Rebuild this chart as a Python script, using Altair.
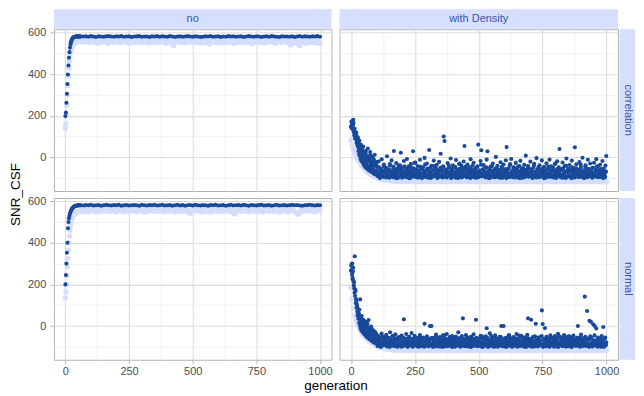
import altair as alt
import pandas as pd

# ------------------------------------------------------------------ data
# facet labels
COL_LABELS = ["no", "with Density"]
ROW_LABELS = ["correlation", "normal"]

# "no" panels: early generations (0..60 step 2)
NO_EARLY_GEN = list(range(0, 61, 2))
NO_CORR_DARK_EARLY = [198, 215, 262, 305, 352, 398, 441, 478, 505, 527, 543, 553, 561, 567, 571,
                      574, 576, 578, 579, 579, 580, 580, 581, 580, 581, 580, 581, 579, 580, 581, 580]
NO_CORR_LIGHT_EARLY = [140, 160, 205, 250, 300, 345, 390, 428, 460, 485, 503, 515, 523, 530, 535,
                       539, 542, 545, 547, 549, 550, 552, 553, 554, 555, 556, 556, 557, 558, 557, 558]
NO_NORM_DARK_EARLY = [200, 245, 300, 352, 400, 470, 500, 518, 530, 540, 548, 554, 559, 563, 566,
                      569, 572, 574, 575, 576, 577, 578, 578, 579, 579, 580, 580, 581, 580, 579, 580]
NO_NORM_LIGHT_EARLY = [135, 165, 200, 240, 285, 325, 365, 400, 432, 460, 482, 498, 510, 518, 524,
                       529, 533, 536, 539, 541, 543, 545, 546, 548, 549, 550, 551, 552, 553, 554, 553]

# "no" panels: later generations (dark every 10 from 70, light every 5 from 65)
NO_DARK_LATE_START, NO_DARK_LATE_STEP = 70, 10
NO_LIGHT_LATE_START, NO_LIGHT_LATE_STEP = 65, 5
NO_CORR_DARK_LATE = [
    580, 581, 579, 582, 580, 578, 581, 580, 579, 581,
    582, 580, 579, 581, 580, 582, 579, 580, 581, 578,
    580, 581, 582, 579, 580, 580, 578, 581, 580, 582,
    579, 581, 580, 579, 582, 580, 578, 580, 581, 579,
    580, 582, 580, 579, 581, 580, 578, 579, 581, 580,
    582, 579, 580, 581, 578, 580, 579, 582, 580, 581,
    579, 580, 581, 578, 580, 582, 580, 579, 581, 580,
    578, 580, 581, 579, 582, 580, 579, 578, 581, 580,
    580, 579, 581, 578, 580, 582, 579, 581, 580, 579,
    581, 580, 582, 579]
NO_CORR_LIGHT_LATE = [
    558, 554, 563, 567, 555, 560, 551, 565, 569, 556,
    552, 562, 566, 548, 559, 564, 554, 557, 570, 553,
    561, 547, 556, 565, 560, 551, 568, 558, 554, 563,
    550, 559, 566, 555, 562, 553, 557, 569, 548, 560,
    564, 556, 552, 561, 567, 554, 558, 550, 565, 559,
    553, 562, 557, 549, 566, 560, 555, 563, 551, 568,
    557, 552, 564, 559, 554, 561, 548, 556, 565, 553,
    560, 543, 537, 551, 563, 558, 555, 566, 552, 559,
    564, 550, 557, 562, 554, 568, 556, 551, 560, 565,
    553, 559, 564, 548, 557, 562, 555, 550, 566, 558,
    544, 554, 561, 556, 567, 552, 559, 563, 549, 557,
    565, 553, 558, 551, 562, 556, 568, 554, 560, 547,
    559, 564, 552, 557, 555, 563, 550, 561, 566, 553,
    558, 551, 562, 556, 546, 560, 554, 565, 557, 552,
    563, 555, 559, 549, 564, 558, 553, 561, 556, 567,
    552, 560, 548, 557, 563, 554, 559, 551, 565, 556,
    561, 553, 558, 545, 539, 555, 562, 550, 557, 564,
    542, 537, 551, 559, 554, 563, 548, 557, 560, 553,
    558, 551, 564, 555, 549, 560, 556, 547]
NO_NORM_DARK_LATE = [
    579, 581, 580, 582, 579, 580, 581, 578, 580, 582,
    580, 579, 581, 580, 582, 578, 580, 581, 579, 580,
    581, 580, 578, 582, 580, 579, 581, 580, 582, 579,
    580, 582, 579, 580, 581, 578, 580, 582, 579, 581,
    578, 580, 581, 579, 582, 580, 579, 581, 580, 578,
    581, 580, 582, 579, 580, 581, 578, 580, 582, 579,
    580, 581, 579, 582, 580, 578, 581, 580, 579, 581,
    582, 579, 580, 581, 578, 580, 582, 579, 580, 581,
    579, 580, 582, 580, 581, 579, 578, 580, 581, 582,
    580, 579, 581, 580]
NO_NORM_LIGHT_LATE = [
    552, 557, 549, 561, 555, 550, 563, 558, 553, 560,
    556, 548, 562, 554, 559, 551, 566, 557, 552, 561,
    555, 563, 550, 558, 564, 553, 557, 549, 562, 556,
    560, 552, 567, 555, 549, 561, 556, 563, 551, 558,
    554, 562, 557, 550, 565, 556, 552, 560, 555, 547,
    563, 558, 551, 566, 554, 559, 553, 561, 557, 550,
    556, 564, 552, 558, 562, 549, 557, 555, 566, 551,
    559, 554, 561, 548, 556, 563, 552, 558, 550, 560,
    555, 562, 551, 557, 545, 540, 553, 560, 556, 564,
    552, 559, 554, 561, 549, 557, 563, 550, 558, 555,
    561, 547, 556, 562, 553, 558, 551, 565, 555, 559,
    550, 563, 557, 552, 560, 554, 566, 549, 558, 544,
    539, 552, 559, 555, 562, 551, 557, 564, 553, 560,
    556, 549, 561, 558, 552, 565, 555, 550, 562, 557,
    553, 560, 548, 557, 563, 554, 559, 551, 566, 556,
    562, 550, 558, 555, 561, 547, 557, 564, 552, 559,
    555, 561, 549, 558, 553, 562, 556, 550, 545, 541,
    538, 548, 556, 562, 551, 559, 554, 563, 557, 552,
    560, 555, 563, 549, 558, 554, 561, 556]

# "with Density" panels: dark every 3 generations from 0 (A) and from 101 (B), light every 5
DEN_DARK_STEP = 3
DEN_B_START = 101
DEN_LIGHT_STEP = 5
DEN_CORR_DARK = [
    145, 168, 135, 180, 128, 112, 98, 118, 72, 95,
    45, 80, 20, 60, 38, -5, 52, 15, -20, 30,
    -35, 8, 42, -48, -12, 25, -55, -25, 2, -62,
    -40, 12, -70, -30,
    -45, -88, -20, -72, -95, -58, -10, -80, -66, -35,
    -92, -50, -78, 5, -85, -62, -98, -40, -70, -15,
    -83, -55, 30, -90, -68, -28, -76, -99, -47, -60,
    -38, 22, -87, -64, -93, -18, -74, -52, -96, -8,
    -81, -45, -69, -100, -33, -88, -57, 29, -75, -94,
    -25, -61, -86, -42, -97, -70, -12, -83, -55, -91,
    -48, -78, -3, -94, -65, -30, -87, -58, 35, -73,
    -99, -41, -82, -62, -16, -90, -53, -77, -36, -95,
    -68, -22, -86, 17, -59, -93, -44, 100, 78, -80,
    -64, -97, -28, -72, -50, -89, -6, -83, -60, -38,
    -92, -75, -47, -13, -86, -66, -99, -32, -79, -55,
    -40, -91, -68, -20, 54, -84, -57, -96, -35, -73,
    -88, -48, -9, -78, -62, -93, -26, -81, -54, -70,
    -97, -43, 61, -85, -66, -18, 34, -90, -58, -37,
    -76, -94, -50, -11, 29, -82, -63, -99, -45, -71,
    -87, -30, -68, -93, -55, 2, -79, -41, -96, -61,
    -74, -24, -89, -52, -98, -35, -83, -65, -14, 49,
    -91, -57, -77, -39, -86, -8, -70, -95, -48, -62,
    -81, -27, -93, -60, -45, -99, -72, -17, -85, -53,
    -67, -96, -36, -79, 8, -88, -58, -42, -92, -74,
    -21, -84, -63, -97, -49, -31, -87, -69, -4, -80,
    -55, -94, -38, -72, -90, -15, -61, -83, -46, -98,
    -66, -29, -86, -57, -77, -11, -93, -43, -70, -88,
    -52, -97, -33, -75, -62, -19, -89, -48, 40, -81,
    -95, -58, -25, -84, -69, -41, -99, -6, -73, -56,
    -87, -37, -64, -92, -16, -78, -51, -96, 48, -68,
    -34, -85, -59, -94, -23, -71, -47, -88, -2, -79,
    -63, -98, -39, -82, -55, -12, -91, -67, -30, -86,
    -74, -50, -95, -26, -80, -61, -9, -89, -44, -70,
    -93, -36, -77, -57, -18, -84, -66, -97, -40, 6]
DEN_CORR_DARK_B = [
    -62, -90, -77, -48, -99, -83, -55, -70, -94, -41,
    -86, -65, -97, -52, -74, -88, -59, -33, -92, -80,
    -68, -96, -45, -84, -71, -100, -57, -89, -63, -38,
    -93, -76, -50, -98, -66, -82, -43, -91, -72, -56,
    -87, -61, -99, -79, -47, -95, -69, -85, -53, -27,
    -90, -74, -58, -97, -81, -64, -92, -46, -78, -100,
    -60, -88, -70, -35, -94, -83, -54, -98, -67, -89,
    -49, -76, -96, -62, -85, -42, -91, -73, -57, -99,
    -80, -65, -93, -51, -87, -70, -97, -44, -82, -61,
    -95, -58, -77, -90, -39, -84, -68, -100, -55, -92,
    -72, -86, -47, -98, -63, -81, -94, -56, -30, -88,
    -66, -97, -79, -52, -91, -74, -45, -89, -60, -96,
    -83, -69, -99, -57, -87, -40, -93, -76, -64, -98,
    -50, -85, -71, -95, -62, -80, -36, -92, -77, -58,
    -90, -67, -97, -48, -84, -73, -99, -55, -88, -65,
    -43, -94, -79, -61, -96, -86, -52, -70, -91, -82,
    -59, -98, -75, -46, -89, -66, -93, -80, -57, -100,
    -71, -87, -54, -95, -33, -78, -92, -63, -85, -49,
    -97, -68, -81, -58, -94, -74, -42, -90, -65, -99,
    -84, -53, -77, -96, -61, -88, -70, -45, -93, -79,
    -56, -91, -67, -99, -83, -38, -86, -72, -97, -60,
    -89, -47, -95, -75, -64, -92, -54, -81, -100, -69,
    -78, -97, -58, -87, -44, -93, -73, -62, -90, -51,
    -96, -66, -83, -29, -99, -77, -55, -88, -70, -94,
    -61, -85, -98, -52, -79, -91, -67, -41, -95, -74,
    -87, -57, -93, -68, -100, -48, -82, -63, -97, -76,
    -53, -90, -72, -96, -59, -86, -35, -94, -80, -64,
    -99, -71, -46, -88, -62, -95, -78, -56, -92, -83,
    -67, -98, -50, -84, -75, -91, -60, -43, -96, -73,
    -89, -58, -94, -65, -81, -99, -54, -77, -92, -69]
DEN_NORM_DARK = [
    265, 298, 232, 280, 210, 335, 168, 120, 95, 64,
    40, 78, 128, 20, 48, -10, 30, -28, 8, -40,
    18, -50, -8, 29, -60, -30, -66, -15, -45, -74,
    -25, -58, -80, -38,
    -70, -95, -48, -82, -60, -99, -36, -88, -75, -53,
    -91, -66, -42, -85, -98, -57, -78, -30, -93, -69,
    -50, -87, -96, -62, -40, -80, -72, -99, -55, -90,
    -65, -84, -46, -97, -76, 32, -59, -92, -38, -81,
    -100, -68, -52, -89, -74, -34, -95, -61, -83, -47,
    -78, -93, -58, -86, -70, -99, -43, -81, -64, -90,
    -55, -96, 11, -74, -88, -49, -67, -97, -80, 0,
    -62, 0, -91, -57, -84, -72, -98, -41, -86, -65,
    -79, -94, -53, -70, -99, -88, -45, -76, -92, -60,
    -85, -38, -97, -68, -81, -56, -93, -74, -48, -89,
    -63, -99, -77, -51, -90, -83, -30, -95, -70, -58,
    -86, -94, 37, -66, -80, -97, -44, -73, -89, -61,
    -92, -55, -78, -99, -68, -85, -40, -94, -71, 30,
    -57, -88, -96, -64, -79, -47, -91, -82, -100, -60,
    -74, -93, -50, -11, -86, -69, -97, -35, -80, -62,
    -90, -58, -77, -99, -45, -84, -71, -95, -63, -88,
    -52, -79, 0, -92, -67, 0, -98, -74, -87, -56,
    -81, -95, -43, -70, -89, -61, -99, -76, -53, -85,
    -66, -93, -38, -80, -97, -58, -72, -88, -47, -91,
    -63, -84, -99, -54, -77, -90, -42, 37, -69, -86,
    -95, 30, -60, -82, -73, -98, -49, 11, -88, -65,
    -79, -94, -56, -70, -91, 75, 10, -83, -67, -10,
    -97, -52, -86, -74, -62, -99, -45, -81, -90, -58,
    -71, -93, -48, -84, -66, -99, -37, -77, -89, -60,
    -85, -54, -96, -72, -43, -88, -65, -98, -79, -51,
    -91, -68, -82, -57, -99, -74, -46, -87, -63, -94,
    -80, -55, 0, -92, -70, -97, -41, -84, -66, -89,
    -58, 141, -95, -76, 72, -62, -88, 25, -50, 20,
    -83, -97, 8, -69, 0, -90, -12, -77, -55, -93,
    -64, -85, -99, -48, -72, -5, -88, -60, -94, -78]
DEN_NORM_DARK_B = [
    -75, -96, -58, -88, -67, -99, -82, -51, -93, -70,
    -62, -90, -78, -97, -55, -85, -72, -100, -64, -91,
    -80, -47, -94, -69, -87, -59, -98, -76, -83, -53,
    -92, -66, -99, -81, -57, -89, -73, -95, -61, -86,
    -70, -97, -52, -84, -77, -93, -63, -100, -68, -88,
    -56, -91, -79, -98, -65, -83, -49, -94, -74, -96,
    -87, -60, -99, -71, -90, -54, -82, -97, -66, -78,
    -93, -58, -85, -100, -69, -76, -95, -50, -89, -63,
    -81, -98, -72, -92, -57, -86, -67, -99, -45, -79,
    -96, -64, -88, -75, -94, -53, -83, -70, -100, -61,
    -90, -77, -55, -97, -68, -85, -92, -59, -80, -99,
    -71, -48, -93, -82, -63, -96, -74, -89, -56, -98,
    -85, -66, -100, -52, -79, -91, -60, -94, -73, -87,
    -58, -97, -69, -84, -95, -62, -78, -99, -51, -90,
    -76, -93, -64, -88, -57, -100, -81, -70, -96, -47,
    -89, -61, -98, -75, -92, -55, -86, -67, -99, -80,
    -65, -94, -53, -83, -97, -72, -90, -59, -87, -100,
    -78, -68, -95, -50, -84, -91, -63, -98, -74, -57,
    -93, -82, -60, -99, -70, -88, -46, -96, -77, -85,
    -54, -97, -73, -90, -64, -100, -83, -58, -94, -69,
    -87, -62, -99, -79, -52, -92, -75, -95, -66, -81,
    -98, -56, -86, -71, -93, -48, -89, -100, -61, -77,
    -91, -74, -97, -59, -84, -67, -96, -53, -88, -80,
    -63, -99, -70, -94, -57, -85, -78, -100, -49, -92,
    -83, -65, -96, -72, -89, -55, -98, -76, -62, -90,
    -97, -50, -87, -68, -100, -80, -58, -93, -73, -86,
    -60, -95, -75, -91, -64, -99, -54, -82, -97, -69,
    -88, -71, -52, -96, -79, -92, -61, -100, -66, -84,
    -57, -98, -77, -89, -45, -94, -70, -85, -99, -63,
    -93, -74, -59, -97, -81, -67, -100, -86, -56, -90]

# extra early generations (those not on the 3-step grid, 1..98)
DEN_EXTRA_GEN = [g for g in range(1, 99) if g % 3 != 0]
DEN_CORR_DARK_EXTRA = [
    150, 172, 160, 140, 175, 155, 165, 120, 105, 138,
    90, 122, 108, 85, 70, 100, 58, 88, 50, 30,
    65, 15, 48, 5, 35, -10, 22, -18, 10, 45,
    -25, 28, -32, 0, -38, 18, -45, -8, 25, -50,
    -15, -52, 5, -42, -58, -20, -62, -5, -50, -66,
    -35, 10, -68, -45, -18, -72, -55, -30, -76, -10,
    -62, -80, -40, -82, -22, -65]
DEN_NORM_DARK_EXTRA = [
    290, 270, 248, 300, 225, 262, 215, 195, 180, 160,
    145, 175, 110, 130, 88, 105, 70, 52, 82, 35,
    60, 15, 45, 0, 25, -12, 38, -20, 5, -25,
    18, -30, -5, -35, 12, -40, -18, 22, -47, -25,
    -3, -52, -35, 10, -57, -40, -12, -61, -48, -22,
    -66, -52, -2, -70, -35, -60, -74, -20, -66, -77,
    -42, -80, -55, -30, -82, -70]

DEN_CORR_LIGHT = [
    82, 58, 36, 20, 6, -6, -16, -26, -35, -43,
    -51, -58, -64, -70, -75, -80, -84, -88, -91, -94,
    -97, -99, -101, -103, -105, -107, -108, -109, -110, -111,
    -112, -113, -112, -114, -115, -113, -116, -114, -115, -117,
    -115, -113, -116, -118, -114, -116, -115, -117, -113, -116,
    -118, -115, -114, -117, -116, -113, -115, -118, -116, -114,
    -117, -115, -116, -113, -118, -116, -114, -117, -115, -116,
    -114, -117, -115, -118, -116, -113, -117, -115, -116, -118,
    -115, -116, -114, -117, -115, -118, -116, -114, -117, -115,
    -116, -118, -115, -114, -117, -116, -113, -115, -118, -116,
    -114, -117, -115, -116, -118, -115, -117, -114, -116, -115,
    -117, -116, -114, -118, -115, -116, -117, -113, -116, -118,
    -115, -117, -116, -114, -118, -116, -115, -117, -114, -116,
    -118, -115, -117, -116, -113, -117, -115, -118, -116, -114,
    -116, -118, -115, -117, -114, -116, -118, -115, -117, -116,
    -114, -117, -116, -118, -115, -117, -113, -116, -118, -115,
    -117, -115, -118, -116, -114, -117, -115, -116, -118, -117,
    -115, -118, -116, -114, -117, -115, -118, -116, -117, -115,
    -116, -114, -117, -118, -115, -116, -118, -117, -115, -116,
    -118, -116, -115, -117, -114, -118, -116, -117, -115, -118,
    -116]
DEN_NORM_LIGHT = [
    185, 130, 85, 50, 25, 8, -6, -18, -28, -37,
    -45, -52, -58, -64, -70, -75, -80, -84, -88, -91,
    -94, -97, -99, -101, -103, -105, -106, -108, -109, -110,
    -111, -112, -114, -113, -115, -116, -114, -117, -115, -116,
    -117, -114, -116, -115, -118, -116, -114, -117, -115, -116,
    -115, -117, -118, -116, -114, -116, -117, -115, -118, -116,
    -116, -114, -117, -115, -116, -118, -115, -117, -116, -114,
    -117, -116, -115, -118, -114, -117, -116, -115, -117, -118,
    -116, -115, -117, -114, -118, -116, -115, -117, -116, -115,
    -118, -116, -114, -117, -115, -116, -118, -117, -114, -116,
    -115, -118, -116, -117, -114, -116, -115, -118, -117, -116,
    -116, -114, -117, -115, -118, -116, -117, -115, -114, -117,
    -118, -116, -115, -117, -116, -114, -118, -116, -117, -115,
    -116, -117, -114, -118, -115, -117, -116, -115, -118, -116,
    -115, -116, -118, -114, -117, -115, -116, -118, -116, -117,
    -117, -115, -116, -118, -116, -114, -117, -115, -118, -116,
    -114, -117, -115, -116, -118, -117, -115, -116, -114, -118,
    -116, -118, -117, -115, -116, -114, -117, -118, -115, -116,
    -117, -115, -116, -118, -114, -117, -116, -115, -118, -117,
    -115, -116, -118, -117, -115, -114, -116, -118, -117, -115,
    -116]

# axis tick values (major + minor grid)
X_VALUES = [0, 125, 250, 375, 500, 625, 750, 875, 1000]
Y_VALUES = [-100, 0, 100, 200, 300, 400, 500, 600]
X_DOMAIN = [-45, 1045]
Y_DOMAIN = [-162, 615]

# ------------------------------------------------------------------ style
FONT = "Liberation Sans"
DARK = "#19499a"
LIGHT = "#d4ddfc"
STRIP_FILL = "#d6dffd"
STRIP_TEXT = "#3358a8"
W_L, W_R, H = 278, 279, 162
SP_COL, SP_ROW = 8, 7
STRIP_H = 20
LIGHT_SIZE, DARK_SIZE = 28, 17


def frame(gens, vals):
    return pd.DataFrame({"generation": gens, "SNR_CSF": vals})


def no_data(dark_early, dark_late, light_early, light_late):
    dg = NO_EARLY_GEN + [NO_DARK_LATE_START + NO_DARK_LATE_STEP * i for i in range(len(dark_late))]
    lg = NO_EARLY_GEN + [NO_LIGHT_LATE_START + NO_LIGHT_LATE_STEP * i for i in range(len(light_late))]
    return frame(lg, light_early + light_late), frame(dg, dark_early + dark_late)


def den_data(dark, dark_b, extra, light):
    dg = ([DEN_DARK_STEP * i for i in range(len(dark))]
          + [DEN_B_START + DEN_DARK_STEP * i for i in range(len(dark_b))]
          + DEN_EXTRA_GEN)
    lg = [DEN_LIGHT_STEP * i for i in range(len(light))]
    return frame(lg, light), frame(dg, dark + dark_b + extra)


def x_axis(show):
    return alt.Axis(
        values=X_VALUES, title=None, domain=False, format="d",
        labels=show, ticks=show,
        labelExpr="datum.value % 250 === 0 ? datum.label : ''",
        labelFont=FONT, labelFontSize=11, labelColor="#4d4d4d", labelPadding=2.5,
        tickSize=3.7, tickColor="#b3b3b3",
        tickOpacity={"condition": {"test": "datum.value % 250 !== 0", "value": 0}, "value": 1},
        grid=True,
        gridColor={"condition": {"test": "datum.value % 250 === 0", "value": "#dcdcdc"}, "value": "#eaeaea"},
        gridWidth={"condition": {"test": "datum.value % 250 === 0", "value": 1.1}, "value": 0.6},
    )


def y_axis(show):
    return alt.Axis(
        values=Y_VALUES, title=None, domain=False, format="d",
        labels=show, ticks=show,
        labelExpr="datum.value % 200 === 0 ? datum.label : ''",
        labelFont=FONT, labelFontSize=11, labelColor="#4d4d4d", labelPadding=4.5,
        tickSize=3.7, tickColor="#b3b3b3",
        tickOpacity={"condition": {"test": "datum.value % 200 !== 0", "value": 0}, "value": 1},
        grid=True,
        gridColor={"condition": {"test": "datum.value % 200 === 0", "value": "#dcdcdc"}, "value": "#eaeaea"},
        gridWidth={"condition": {"test": "datum.value % 200 === 0", "value": 1.1}, "value": 0.6},
    )


def panel(light_df, dark_df, width, left, bottom, top_label=None, right_label=None,
          y_title=False, x_title=False):
    x = alt.X("generation:Q", scale=alt.Scale(domain=X_DOMAIN, nice=False, zero=False), axis=x_axis(bottom))
    y = alt.Y("SNR_CSF:Q", scale=alt.Scale(domain=Y_DOMAIN, nice=False, zero=False), axis=y_axis(left))
    layers = [
        alt.Chart(light_df).mark_circle(size=LIGHT_SIZE, color=LIGHT, opacity=1).encode(x=x, y=y),
        alt.Chart(dark_df).mark_circle(size=DARK_SIZE, color=DARK, opacity=1).encode(x=x, y=y),
    ]
    if top_label is not None:
        d = pd.DataFrame({"label": [top_label]})
        layers.append(alt.Chart(d).mark_rect(color=STRIP_FILL).encode(
            x=alt.value(0), x2=alt.value(width), y=alt.value(-STRIP_H), y2=alt.value(-0.5)))
        layers.append(alt.Chart(d).mark_text(font=FONT, fontSize=11, color=STRIP_TEXT,
                                             align="center", baseline="middle").encode(
            x=alt.value(width / 2), y=alt.value(-STRIP_H / 2), text="label:N"))
    if right_label is not None:
        d = pd.DataFrame({"label": [right_label]})
        layers.append(alt.Chart(d).mark_rect(color=STRIP_FILL).encode(
            x=alt.value(width + 1.5), x2=alt.value(width + 17), y=alt.value(0), y2=alt.value(H)))
        layers.append(alt.Chart(d).mark_text(font=FONT, fontSize=11, color=STRIP_TEXT, angle=90,
                                             align="center", baseline="middle").encode(
            x=alt.value(width + 9.5), y=alt.value(H / 2), text="label:N"))
    if y_title:
        d = pd.DataFrame({"label": ["SNR_CSF"]})
        layers.append(alt.Chart(d).mark_text(font=FONT, fontSize=13.5, color="#000000", angle=270,
                                             align="center", baseline="alphabetic").encode(
            x=alt.value(-33.7), y=alt.value(H + SP_ROW / 2), text="label:N"))
    if x_title:
        d = pd.DataFrame({"label": ["generation"]})
        layers.append(alt.Chart(d).mark_text(font=FONT, fontSize=13.5, color="#000000",
                                             align="center", baseline="alphabetic").encode(
            x=alt.value((W_L + SP_COL + W_R) / 2), y=alt.value(H + 30), text="label:N"))
    return alt.layer(*layers).properties(width=width, height=H)


l1, d1 = no_data(NO_CORR_DARK_EARLY, NO_CORR_DARK_LATE, NO_CORR_LIGHT_EARLY, NO_CORR_LIGHT_LATE)
l2, d2 = den_data(DEN_CORR_DARK, DEN_CORR_DARK_B, DEN_CORR_DARK_EXTRA, DEN_CORR_LIGHT)
l3, d3 = no_data(NO_NORM_DARK_EARLY, NO_NORM_DARK_LATE, NO_NORM_LIGHT_EARLY, NO_NORM_LIGHT_LATE)
l4, d4 = den_data(DEN_NORM_DARK, DEN_NORM_DARK_B, DEN_NORM_DARK_EXTRA, DEN_NORM_LIGHT)

p_tl = panel(l1, d1, W_L, left=True, bottom=False, top_label=COL_LABELS[0], y_title=True)
p_tr = panel(l2, d2, W_R, left=False, bottom=False, top_label=COL_LABELS[1], right_label=ROW_LABELS[0])
p_bl = panel(l3, d3, W_L, left=True, bottom=True, x_title=True)
p_br = panel(l4, d4, W_R, left=False, bottom=True, right_label=ROW_LABELS[1])

chart = alt.concat(
    p_tl, p_tr, p_bl, p_br, columns=2,
    spacing={"row": SP_ROW, "column": SP_COL}, bounds="flush",
).properties(padding=0).configure(font=FONT).configure_view(stroke="#b3b3b3", strokeWidth=1)

chart.save("out.html", embed_options={"renderer": "svg", "actions": False})
